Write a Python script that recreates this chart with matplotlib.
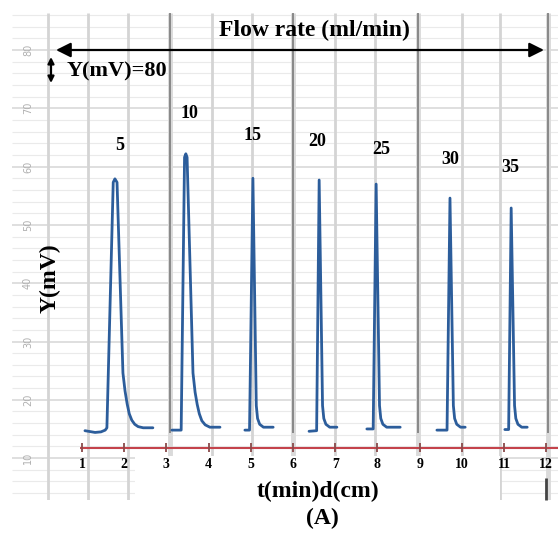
import matplotlib
matplotlib.use("Agg")
import matplotlib.pyplot as plt
from matplotlib.patches import Rectangle

# ---------------- data (t in min, Y in mV) ----------------
peak1_t = [1.07, 1.31, 1.45, 1.55, 1.59, 1.74, 1.78, 1.83, 1.97, 2.02, 2.07, 2.12,
           2.18, 2.25, 2.33, 2.45, 2.68]
peak1_y = [14.7, 14.4, 14.5, 14.8, 15.2, 57.3, 57.9, 57.3, 24.6, 21.5, 19.3, 17.6,
           16.5, 15.8, 15.4, 15.2, 15.2]
peak2_t = [3.13, 3.35, 3.43, 3.46, 3.49, 3.63, 3.68, 3.73, 3.78, 3.84, 3.92, 4.03, 4.27]
peak2_y = [14.8, 14.8, 61.6, 62.2, 61.6, 24.6, 21.3, 19.2, 17.6, 16.4, 15.7, 15.3, 15.3]
peak3_t = [4.86, 4.97, 5.05, 5.13, 5.16, 5.21, 5.30, 5.53]
peak3_y = [14.8, 14.8, 58.0, 19.0, 16.8, 15.8, 15.3, 15.3]
peak4_t = [6.38, 6.56, 6.62, 6.70, 6.73, 6.78, 6.87, 7.04]
peak4_y = [14.6, 14.7, 57.7, 19.0, 16.8, 15.8, 15.3, 15.3]
peak5_t = [7.75, 7.90, 7.97, 8.05, 8.08, 8.13, 8.22, 8.54]
peak5_y = [15.0, 15.0, 57.0, 19.0, 16.8, 15.8, 15.3, 15.3]
peak6_t = [9.41, 9.65, 9.72, 9.80, 9.83, 9.88, 9.97, 10.08]
peak6_y = [14.8, 14.8, 54.6, 19.0, 16.8, 15.8, 15.3, 15.3]
peak7_t = [11.02, 11.11, 11.17, 11.25, 11.28, 11.33, 11.42, 11.55]
peak7_y = [14.9, 14.9, 52.9, 19.0, 16.8, 15.8, 15.3, 15.3]

flow_rates = ["5", "10", "15", "20", "25", "30", "35"]
x_ticks = [1, 2, 3, 4, 5, 6, 7, 8, 9, 10, 11, 12]
y_ticks = [10, 20, 30, 40, 50, 60, 70, 80]

segments = [(peak1_t, peak1_y), (peak2_t, peak2_y), (peak3_t, peak3_y),
            (peak4_t, peak4_y), (peak5_t, peak5_y), (peak6_t, peak6_y),
            (peak7_t, peak7_y)]

# ---------------- layout helpers (pixel -> data) ----------------
W, H = 558, 533
def xt(px):
    return 1 + (px - 82) / 42.2
def ym(py):
    return 80 - (py - 50) / 5.83

fig = plt.figure(figsize=(W / 100, H / 100), dpi=100)
ax = fig.add_axes([0, 0, 1, 1])
ax.set_xlim(xt(0), xt(W))
ax.set_ylim(ym(H), ym(0))
ax.axis("off")

serif = "Liberation Serif"

# ---------------- chart paper grid ----------------
gx0, gx1 = xt(12), xt(558)
gy0, gy1 = ym(500), ym(13)
for v in range(4, 88, 2):
    major = v % 10 == 0
    ax.hlines(v, gx0, gx1, color="#d6d6d6" if major else "#eaeaea",
              lw=1.1 if major else 0.8, zorder=1)
light_v = [48, 88, 128, 212, 252, 335, 375, 462, 500]
dark_v = [170, 293, 418, 548]
for px in light_v:
    ax.vlines(xt(px), gy0, gy1, color="#d4d4d4", lw=2.0, zorder=1)
for px in dark_v:
    ax.vlines(xt(px), gy0, gy1, color="#dadada", lw=3.5, zorder=1)
    ax.vlines(xt(px), ym(433), gy1, color="#7a7a7a", lw=1.2, zorder=1.5)
ax.vlines(xt(546), ym(500), ym(478), color="#444444", lw=2.0, zorder=3)
# white band under the axis (labels area)
ax.add_patch(Rectangle((xt(135), ym(533)), xt(500) - xt(135), ym(456) - ym(533),
                       facecolor="white", edgecolor="none", zorder=2))
ax.add_patch(Rectangle((xt(0), ym(533)), xt(558) - xt(0), ym(500) - ym(533),
                       facecolor="white", edgecolor="none", zorder=2))

# faint y tick labels of the paper
for v in y_ticks:
    ax.text(xt(28), v, str(v), rotation=90, ha="center", va="center",
            fontsize=7, color="#b0b0b0", zorder=3)

# ---------------- traces ----------------
for t, y in segments:
    ax.plot(t, y, color="#2c5d9b", lw=2.0, solid_joinstyle="round",
            solid_capstyle="round", zorder=5)

# ---------------- axis line with ticks ----------------
ax.hlines(ym(448), xt(80), xt(558), color="#c4434b", lw=1.5, zorder=4)
ax.vlines(x_ticks, ym(452), ym(443), color="#8a4a4a", lw=1.3, zorder=4)
for t in x_ticks:
    ax.text(t, ym(465), str(t), ha="center", va="center", fontsize=10,
            fontweight="bold", family=serif, zorder=6)

# ---------------- peak labels ----------------
label_px = [(120, 145), (189, 114), (253, 135), (317, 142),
            (381, 150), (450, 160), (510, 168)]
for lab, (px, py) in zip(flow_rates, label_px):
    ax.text(xt(px), ym(py), lab, ha="center", va="center", fontsize=13,
            fontweight="bold", family=serif, zorder=6)

# ---------------- annotations ----------------
ax.text(xt(314), ym(30), "Flow rate (ml/min)", ha="center", va="center",
        fontsize=17, fontweight="bold", family=serif, zorder=6)
ax.annotate("", xy=(xt(544), ym(50)), xytext=(xt(56), ym(50)),
            arrowprops=dict(arrowstyle="<|-|>", color="black", lw=1.6,
                            mutation_scale=22, shrinkA=0, shrinkB=0), zorder=6)
ax.annotate("", xy=(xt(51), ym(57)), xytext=(xt(51), ym(83)),
            arrowprops=dict(arrowstyle="<|-|>", color="black", lw=1.6,
                            mutation_scale=9, shrinkA=0, shrinkB=0), zorder=6)
ax.text(xt(67), ym(71), "Y(mV)=80", ha="left", va="center",
        fontsize=16, fontweight="bold", family=serif, zorder=6)

ax.text(xt(50), ym(278), "Y(mV)", rotation=90, ha="center", va="center",
        fontsize=17, fontweight="bold", family=serif, zorder=6)
ax.text(xt(318), ym(491), "t(min)d(cm)", ha="center", va="center",
        fontsize=17, fontweight="bold", family=serif, zorder=6)
ax.text(xt(322), ym(518), "(A)", ha="center", va="center",
        fontsize=17, fontweight="bold", family=serif, zorder=6)

fig.savefig("out.png", dpi=100, facecolor="white")
